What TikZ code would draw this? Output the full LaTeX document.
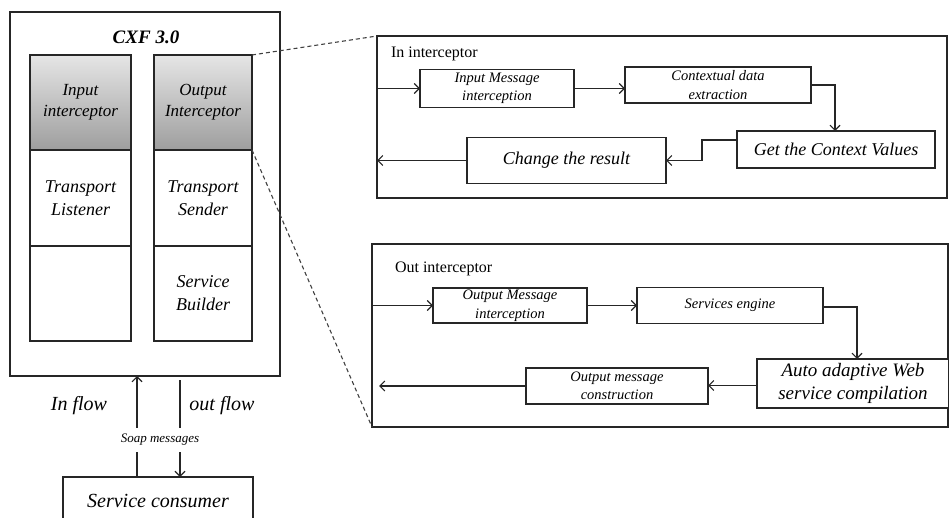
\documentclass[tikz,border=0pt]{standalone}
\usepackage{fontspec}
\setmainfont{Liberation Serif}
\usetikzlibrary{arrows.meta,calc}
\begin{document}
\begin{tikzpicture}[x=1pt,y=-1pt,
  every node/.style={inner sep=0pt, outer sep=0pt},
  frame/.style={draw=black!85, line width=1.1pt},
  cell/.style={frame, fill=white, align=center, font=\fontsize{18}{23}\selectfont\itshape},
  graycell/.style={cell, top color=black!10, bottom color=black!38, font=\fontsize{17}{21}\selectfont\itshape},
  proc/.style={frame, fill=white, align=center},
  smallproc/.style={proc, font=\fontsize{14.5}{18.5}\selectfont\itshape},
  bigproc/.style={proc, font=\fontsize{18}{23}\selectfont\itshape},
  arr/.style={draw=black!85, line width=1.1pt, -{Straight Barb[length=5pt,width=10pt]}},
  dashline/.style={draw=black!75, line width=1.1pt, dash pattern=on 4pt off 3pt},
  lbl/.style={font=\fontsize{16}{18}\selectfont}
]
\useasboundingbox (0,0) rectangle (949,518);
\clip (0,0) rectangle (949,518);

% CXF block
\node[frame, minimum width=270pt, minimum height=364pt] (cxf) at (145,194) {};
\node[font=\fontsize{19}{22}\selectfont\bfseries\itshape] (title) at (146,37) {CXF 3.0};
\node[graycell, minimum width=101pt, minimum height=95pt] (l1) at (80.5,102.5) {Input\\interceptor};
\node[cell, minimum width=101pt, minimum height=96pt] (l2) at (80.5,198) {Transport\\Listener};
\node[cell, minimum width=101pt, minimum height=95pt] (l3) at (80.5,293.5) {};
\node[graycell, minimum width=98pt, minimum height=95pt] (r1) at (203,102.5) {Output\\Interceptor};
\node[cell, minimum width=98pt, minimum height=96pt] (r2) at (203,198) {Transport\\Sender};
\node[cell, minimum width=98pt, minimum height=95pt] (r3) at (203,293.5) {Service\\Builder};

% consumer
\node[frame, minimum width=190pt, minimum height=48pt, font=\fontsize{20}{23}\selectfont\itshape] (cons) at (158,501) {Service consumer};
\coordinate (inx) at (137,0);
\coordinate (outtop) at (180,380);
\draw[arr] (cons.north -| inx) -- (cxf.south -| inx);
\draw[arr] (outtop) -- (cons.north -| outtop);
\node[fill=white, inner xsep=2pt, inner ysep=6pt, font=\fontsize{13}{15}\selectfont\itshape] (soap) at (160,440) {Soap messages};
\node[font=\fontsize{20}{23}\selectfont\itshape] (inflow) at (79,406) {In flow};
\node[font=\fontsize{20}{23}\selectfont\itshape] (outflow) at (222,406) {out flow};

% In interceptor panel
\node[frame, minimum width=570pt, minimum height=162pt] (inp) at (662,117) {};
\node[lbl, anchor=west] (inlbl) at (391,54) {In interceptor};
\node[smallproc, minimum width=154pt, minimum height=38pt] (inmsg) at (497,88.5) {Input Message\\interception};
\node[smallproc, minimum width=186pt, minimum height=36pt] (ctx) at (718,85) {Contextual data\\extraction};
\node[bigproc, minimum width=198pt, minimum height=37pt] (getv) at (836,149.5) {Get the Context Values};
\node[bigproc, minimum width=199pt, minimum height=46pt] (chg) at (566.5,160.5) {Change the result};
\coordinate (getw) at (737,140);
\coordinate (bend1) at (702,140);
\coordinate (ctxdown) at (835,131);
\draw[arr] (inp.west |- inmsg.west) -- (inmsg.west);
\draw[arr] (inmsg.east) -- (inmsg.east -| ctx.west);
\draw[arr] (ctx.east) -| (ctxdown);
\draw[arr] (getw) -- (bend1) |- (chg.east);
\draw[arr] (chg.west) -- (inp.west |- chg.west);

% Out interceptor panel
\node[frame, minimum width=576pt, minimum height=183pt] (outp) at (660,335.5) {};
\node[lbl, anchor=west] (outlbl) at (395,269) {Out interceptor};
\node[smallproc, minimum width=154pt, minimum height=35pt] (outmsg) at (510,305.5) {Output Message\\interception};
\node[smallproc, minimum width=186pt, minimum height=36pt] (seng) at (730,305.5) {Services engine};
\node[proc, minimum width=192pt, minimum height=49pt, font=\fontsize{19}{23}\selectfont\itshape] (auto) at (853,383.5) {Auto adaptive Web\\service compilation};
\node[smallproc, minimum width=182pt, minimum height=36pt] (omc) at (617,386) {Output message\\construction};
\coordinate (autodown) at (857,359);
\coordinate (omcend) at (379,0);
\draw[arr] (outp.west |- outmsg.west) -- (outmsg.west);
\draw[arr] (outmsg.east) -- (outmsg.east -| seng.west);
\draw[arr] ([yshift=-1.5pt]seng.east) -| (autodown);
\draw[arr] ([yshift=-2pt]auto.west) -- ([yshift=-2pt]auto.west -| omc.east);
\draw[arr] (omc.west) -- (omc.west -| omcend);

% zoom dashed lines
\draw[dashline] (r1.north east) -- (inp.north west);
\draw[dashline] (r1.south east) -- (outp.south west);
\end{tikzpicture}
\end{document}
